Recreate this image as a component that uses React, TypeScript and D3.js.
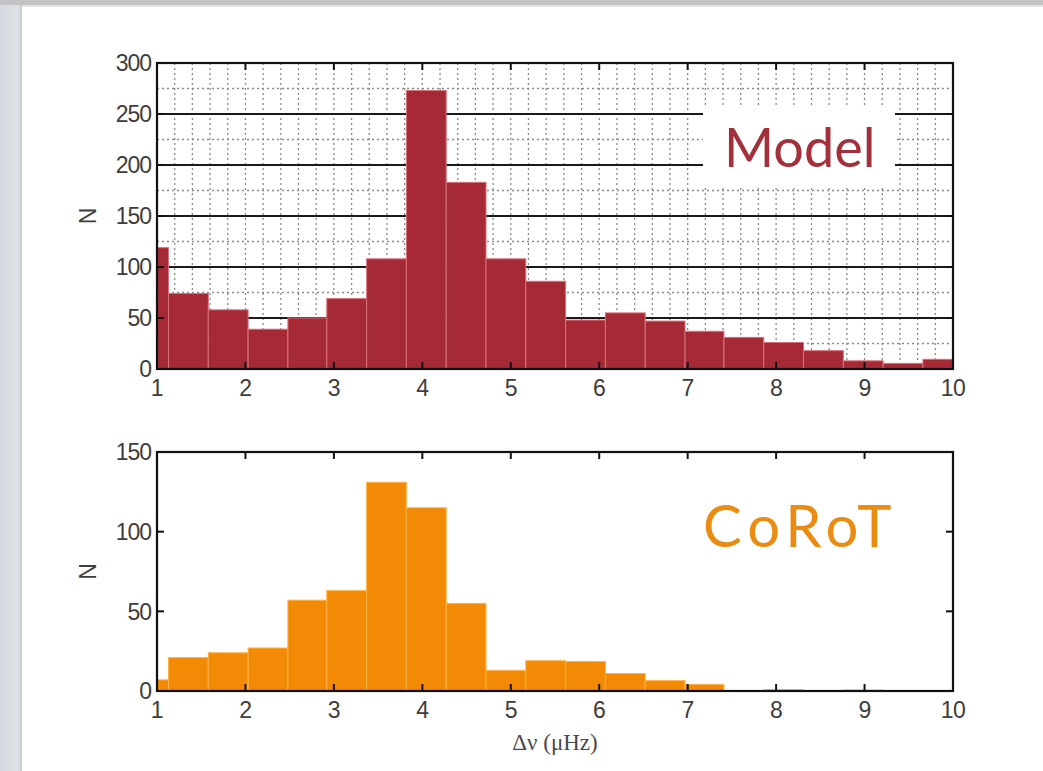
import React from "react";
import * as d3 from "d3";

// Histogram bin edges (Δν, µHz)
const binEdges = [0.68, 1.13, 1.58, 2.03, 2.48, 2.92, 3.37, 3.82, 4.27, 4.72, 5.17, 5.62, 6.07, 6.52, 6.97, 7.41, 7.86, 8.31, 8.76, 9.21, 9.66, 10.11];
// Model counts per bin
const modelCounts = [119, 74, 58, 39, 50, 69, 108, 273, 183, 108, 86, 48, 55, 47, 37, 31, 26, 18, 8, 5.5, 9.5];
// CoRoT counts per bin
const corotCounts = [7, 21, 24, 27, 57, 63, 131, 115, 55, 13, 19, 18.5, 11, 6.5, 4.2, 0.3, 0.8, 0.3, 0.6, 0, 0];

const xTicks = [1, 2, 3, 4, 5, 6, 7, 8, 9, 10];
const modelYTicks = [0, 50, 100, 150, 200, 250, 300];
const corotYTicks = [0, 50, 100, 150];

const X0 = 157, X1 = 953;
const FONT = "'Liberation Sans', Arial, sans-serif";
const TITLE_FONT = "Lato, 'Open Sans', sans-serif";

type PanelProps = {
  id: string;
  counts: number[];
  yMax: number;
  yTicks: number[];
  top: number;
  bottom: number;
  fill: string;
  edge: string;
  grid: boolean;
  label: string;
  labelColor: string;
  labelX: number;
  labelY: number;
  labelSize: number;
  labelSpacing: number;
  labelBox?: [number, number, number, number];
};

function Panel(p: PanelProps) {
  const x = d3.scaleLinear().domain([1, 10]).range([X0, X1]);
  const y = d3.scaleLinear().domain([0, p.yMax]).range([p.bottom, p.top]);
  const minorX = d3.range(1, 10.001, 0.2);
  const minorY = d3.range(0, p.yMax + 0.001, 25);
  const majorY = p.yTicks.filter((v) => v > 0 && v < p.yMax);
  const tl = 7;
  return (
    <g>
      <defs>
        <clipPath id={"clip-" + p.id}>
          <rect x={X0} y={p.top} width={X1 - X0} height={p.bottom - p.top} />
        </clipPath>
      </defs>
      <rect x={X0} y={p.top} width={X1 - X0} height={p.bottom - p.top} fill="#fff" />
      {p.grid && (
        <g>
          {minorX.map((v, i) => (
            <line key={"mx" + i} x1={x(v)} x2={x(v)} y1={p.top} y2={p.bottom} stroke="#8a8a8a" strokeWidth={1.3} strokeDasharray="2,3" />
          ))}
          {minorY.map((v, i) => (
            <line key={"my" + i} x1={X0} x2={X1} y1={y(v)} y2={y(v)} stroke="#8a8a8a" strokeWidth={1.3} strokeDasharray="2,3" />
          ))}
          {majorY.map((v, i) => (
            <line key={"My" + i} x1={X0} x2={X1} y1={y(v)} y2={y(v)} stroke="#1a1a1a" strokeWidth={2.2} />
          ))}
        </g>
      )}
      {p.labelBox && (
        <rect x={p.labelBox[0]} y={p.labelBox[1]} width={p.labelBox[2]} height={p.labelBox[3]} fill="#fff" />
      )}
      <g clipPath={`url(#clip-${p.id})`}>
        {p.counts.map((c, i) =>
          c > 0 ? (
            <rect
              key={i}
              x={x(binEdges[i])}
              y={y(c)}
              width={x(binEdges[i + 1]) - x(binEdges[i])}
              height={p.bottom - y(c)}
              fill={p.fill}
              stroke={p.edge}
              strokeWidth={1}
            />
          ) : null
        )}
      </g>
      <rect x={X0} y={p.top} width={X1 - X0} height={p.bottom - p.top} fill="none" stroke="#111" strokeWidth={2.2} />
      {xTicks.map((v) => (
        <g key={"xt" + v}>
          <line x1={x(v)} x2={x(v)} y1={p.bottom} y2={p.bottom - tl} stroke="#111" strokeWidth={2} />
          <line x1={x(v)} x2={x(v)} y1={p.top} y2={p.top + tl} stroke="#111" strokeWidth={2} />
          <text x={x(v)} y={p.bottom + 27} textAnchor="middle" fontFamily={FONT} fontSize={23} fill="#3d3d3d" letterSpacing={-0.5}>
            {v}
          </text>
        </g>
      ))}
      {p.yTicks.map((v) => (
        <g key={"yt" + v}>
          <line x1={X0} x2={X0 + tl} y1={y(v)} y2={y(v)} stroke="#111" strokeWidth={2} />
          <line x1={X1} x2={X1 - tl} y1={y(v)} y2={y(v)} stroke="#111" strokeWidth={2} />
          <text x={151} y={y(v)} dy="0.36em" textAnchor="end" fontFamily={FONT} fontSize={23} fill="#3d3d3d" letterSpacing={-1}>
            {v}
          </text>
        </g>
      ))}
      <text
        transform={`translate(96, ${(p.top + p.bottom) / 2}) rotate(-90)`}
        textAnchor="middle"
        fontFamily={FONT}
        fontSize={23}
        fill="#3d3d3d"
      >
        N
      </text>
      <text x={p.labelX} y={p.labelY} fontFamily={TITLE_FONT} fontSize={p.labelSize} fill={p.labelColor} letterSpacing={p.labelSpacing}>
        {p.label}
      </text>
    </g>
  );
}

export default function App() {
  return (
    <svg width={1043} height={771} style={{ position: "absolute", left: 0, top: 0, display: "block" }}>
      <defs>
        <linearGradient id="leftband" x1="0" x2="1" y1="0" y2="0">
          <stop offset="0" stopColor="#d3d7dd" />
          <stop offset="0.8" stopColor="#e0e3e8" />
          <stop offset="1" stopColor="#c9ccd1" />
        </linearGradient>
      </defs>
      <rect x={0} y={0} width={1043} height={771} fill="#ffffff" />
      <rect x={0} y={0} width={22} height={771} fill="url(#leftband)" />
      <rect x={0} y={0} width={1043} height={5} fill="#c2c3c5" />
      <rect x={22} y={5} width={1021} height={2} fill="#e2e4e6" />
      <Panel
        id="model"
        counts={modelCounts}
        yMax={300}
        yTicks={modelYTicks}
        top={63}
        bottom={369}
        fill="#a62a35"
        edge="#d9707a"
        grid={true}
        label="Model"
        labelColor="#a3303b"
        labelX={724}
        labelY={167}
        labelSize={54}
        labelSpacing={0}
        labelBox={[703, 106, 192, 82]}
      />
      <Panel
        id="corot"
        counts={corotCounts}
        yMax={150}
        yTicks={corotYTicks}
        top={452}
        bottom={691}
        fill="#f28a05"
        edge="#ffb347"
        grid={false}
        label="CoRoT"
        labelColor="#eb8c12"
        labelX={703}
        labelY={547}
        labelSize={58}
        labelSpacing={6}
      />
      <text x={555} y={750} textAnchor="middle" fontFamily="'Liberation Serif', 'Times New Roman', serif" fontSize={23} fill="#4a4a4a">
        Δν (μHz)
      </text>
    </svg>
  );
}
